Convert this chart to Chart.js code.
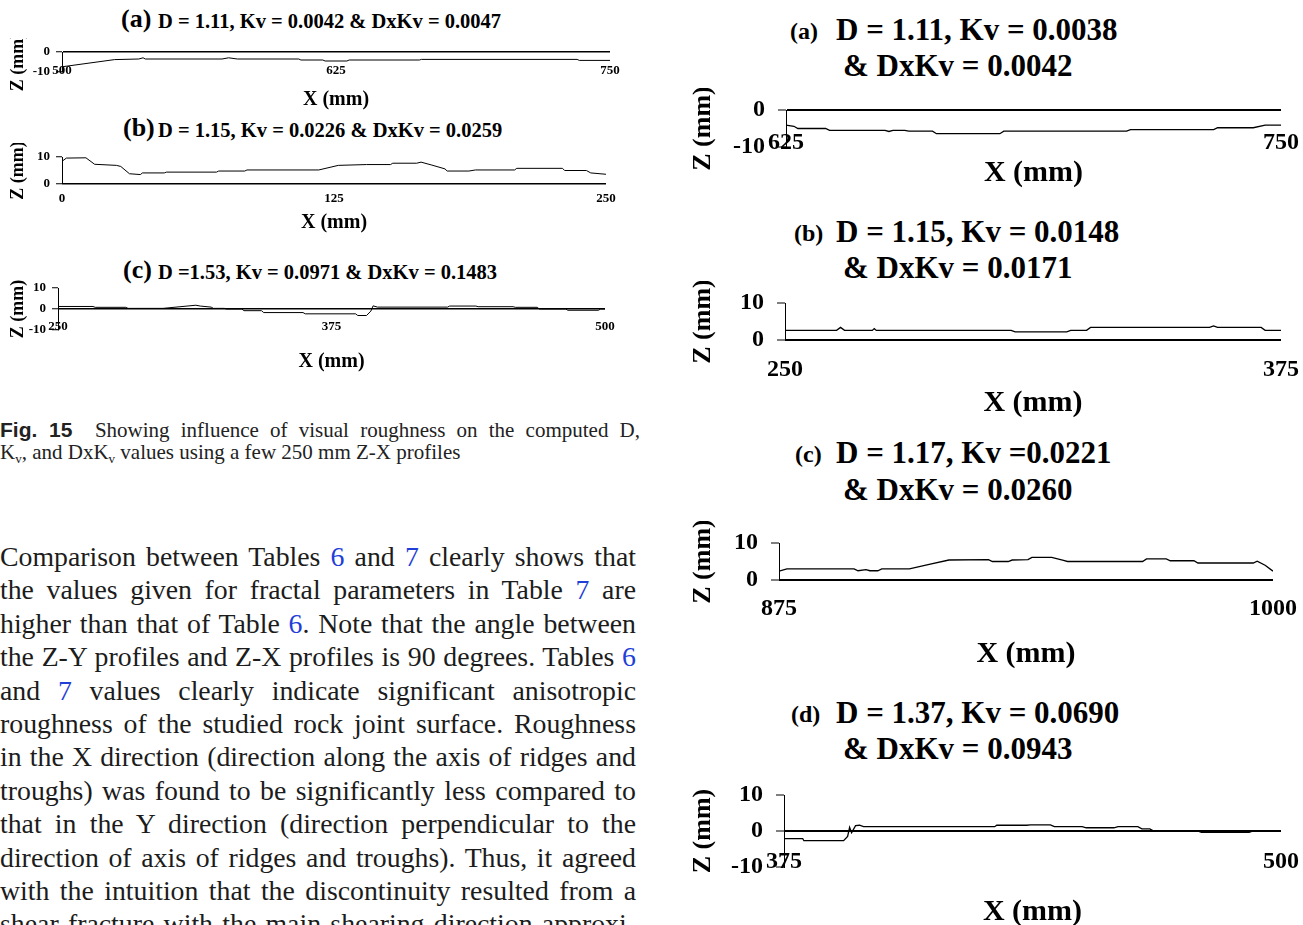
<!DOCTYPE html>
<html>
<head>
<meta charset="utf-8">
<script src="https://cdn.jsdelivr.net/npm/chart.js@4.4.1/dist/chart.umd.min.js"></script>
<style>
  html, body { margin: 0; padding: 0; background: #fff; }
  #page { position: relative; width: 1303px; height: 925px; overflow: hidden; background: #fff;
          font-family: "Liberation Serif", "Times New Roman", serif; color: #111; }
  #page canvas { position: absolute; }
  .t { position: absolute; font-weight: bold; white-space: nowrap; line-height: 1; color: #000; }
  .cap { position: absolute; left: 0; width: 640px; font-size: 21px; line-height: 22px; color: #222;
         text-align: justify; text-align-last: justify; }
  .cap2 { position: absolute; left: 0; font-size: 21px; line-height: 22px; color: #222; white-space: nowrap; }
  .fig { font-family: "Liberation Sans", Arial, sans-serif; font-weight: bold; font-size: 21px; }
  sub { font-size: 62%; vertical-align: -0.3em; line-height: 0; }
  .ln { position: absolute; left: 0; width: 636px; height: 33.4px; font-size: 27.8px; line-height: 33.4px;
        color: #1c1c1c; text-align: justify; text-align-last: justify; }
  .ln a { color: #1f3fd8; text-decoration: none; }
</style>
</head>
<body>
<div id="page">
  <!-- left figure titles -->
  <div class="t" style="left:121px; top:6px; font-size:26px">(a)</div>
  <div class="t" style="left:158px; top:11px; font-size:20.5px">D = 1.11, Kv = 0.0042 &amp; DxKv = 0.0047</div>
  <div class="t" style="left:123px; top:115px; font-size:26px">(b)</div>
  <div class="t" style="left:158px; top:120px; font-size:20.5px">D = 1.15, Kv = 0.0226 &amp; DxKv = 0.0259</div>
  <div class="t" style="left:123px; top:257px; font-size:26px">(c)</div>
  <div class="t" style="left:158px; top:262px; font-size:20.5px">D =1.53, Kv = 0.0971 &amp; DxKv = 0.1483</div>

  <!-- right figure titles -->
  <div class="t" style="left:790px; top:18.5px; font-size:24px">(a)</div>
  <div class="t" style="left:836px; top:13.6px; font-size:31px">D = 1.11, Kv = 0.0038</div>
  <div class="t" style="left:843px; top:49.6px; font-size:31px">&amp; DxKv = 0.0042</div>
  <div class="t" style="left:794px; top:220.5px; font-size:24px">(b)</div>
  <div class="t" style="left:836px; top:215.6px; font-size:31px">D = 1.15, Kv = 0.0148</div>
  <div class="t" style="left:843px; top:251.6px; font-size:31px">&amp; DxKv = 0.0171</div>
  <div class="t" style="left:795px; top:441.5px; font-size:24px">(c)</div>
  <div class="t" style="left:836px; top:436.6px; font-size:31px">D = 1.17, Kv =0.0221</div>
  <div class="t" style="left:843px; top:473.6px; font-size:31px">&amp; DxKv = 0.0260</div>
  <div class="t" style="left:791px; top:701.5px; font-size:24px">(d)</div>
  <div class="t" style="left:836px; top:696.6px; font-size:31px">D = 1.37, Kv = 0.0690</div>
  <div class="t" style="left:843px; top:732.6px; font-size:31px">&amp; DxKv = 0.0943</div>

  <!-- caption -->
  <div class="cap" style="top:419px"><span class="fig">Fig. 15</span>&nbsp; Showing influence of visual roughness on the computed D,</div>
  <div class="cap2" style="top:441px">K<sub>v</sub>, and DxK<sub>v</sub> values using a few 250 mm Z-X profiles</div>

  <!-- body text -->
  <div class="ln" style="top:540px">Comparison between Tables <a>6</a> and <a>7</a> clearly shows that</div>
  <div class="ln" style="top:573.4px">the values given for fractal parameters in Table <a>7</a> are</div>
  <div class="ln" style="top:606.8px">higher than that of Table <a>6</a>. Note that the angle between</div>
  <div class="ln" style="top:640.2px">the Z-Y profiles and Z-X profiles is 90 degrees. Tables <a>6</a></div>
  <div class="ln" style="top:673.6px">and <a>7</a> values clearly indicate significant anisotropic</div>
  <div class="ln" style="top:707px">roughness of the studied rock joint surface. Roughness</div>
  <div class="ln" style="top:740.4px">in the X direction (direction along the axis of ridges and</div>
  <div class="ln" style="top:773.8px">troughs) was found to be significantly less compared to</div>
  <div class="ln" style="top:807.2px">that in the Y direction (direction perpendicular to the</div>
  <div class="ln" style="top:840.6px">direction of axis of ridges and troughs). Thus, it agreed</div>
  <div class="ln" style="top:874px">with the intuition that the discontinuity resulted from a</div>
  <div class="ln" style="top:907.4px">shear fracture with the main shearing direction approxi-</div>
</div>

<script>
// ---- left figure (Fig. 15) profiles ----
const leftAX = [500, 524, 535, 537, 538, 573, 576, 580, 608, 609, 619, 620, 630, 631, 663, 664, 735, 736, 750]
const leftAZ = [-7.4, -3.8, -3.5, -2.9, -3.5, -3.5, -2.9, -3.5, -3.5, -4.0, -4.0, -4.5, -4.5, -4.0, -4.0, -3.7, -3.7, -4.2, -4.2]
const leftAXTicks = [500, 625, 750]
const leftAZTicks = [-10, 0]

const leftBX = [0, 2, 11, 15, 25, 27, 31, 36, 37, 47, 48, 71, 72, 84, 85, 118, 127, 140, 151, 152, 163, 165, 170, 176, 177, 187, 190, 208, 209, 230, 231, 241, 243, 250]
const leftBZ = [8.4, 9.6, 9.7, 7.3, 6.9, 6.5, 3.8, 3.5, 4.1, 4.1, 4.4, 4.4, 4.8, 4.8, 5.2, 5.2, 6.9, 7.2, 7.2, 7.7, 7.7, 8.1, 7.0, 5.6, 4.8, 4.8, 5.2, 5.2, 5.8, 5.8, 5.0, 5.0, 4.1, 3.6]
const leftBXTicks = [0, 125, 250]
const leftBZTicks = [0, 10]

const leftCX = [250, 266, 267, 281, 282, 298, 313, 315, 320, 321, 326, 327, 334, 335, 343, 344, 362, 363, 386, 387, 391, 393, 394, 396, 428, 429, 441, 442, 458, 459, 469, 470, 482, 483, 497, 498, 500]
const leftCZ = [1.2, 1.2, 0.8, 0.8, 0.3, 0.3, 1.8, 1.4, 0.9, 0.3, 0.3, 0, 0, -0.8, -0.8, -1.7, -1.7, -2.3, -2.3, -3.1, -3.1, -1.0, 1.5, 0.9, 0.9, 1.4, 1.4, 1.1, 1.1, 0.8, 0.8, 0, 0, -0.6, -0.6, 0, 0]
const leftCXTicks = [250, 375, 500]
const leftCZTicks = [-10, 0, 10]

// ---- right figure profiles ----
const rightAX = [625, 627, 628, 635, 636, 650, 651, 652, 655, 656, 662, 663, 679, 680, 711, 712, 733, 734, 743, 746, 750]
const rightAZ = [-4.1, -4.4, -5.0, -5.0, -5.5, -5.5, -5.8, -5.5, -5.5, -5.7, -5.7, -6.4, -6.4, -5.7, -5.7, -5.3, -5.3, -4.8, -4.8, -4.1, -4.1]
const rightAXTicks = [625, 750]
const rightAZTicks = [-10, 0]

const rightBX = [250, 263, 264, 265, 272, 272.5, 273, 307, 308, 321, 322, 326, 327, 357, 358, 359, 370, 371, 375]
const rightBZ = [2.6, 2.6, 3.4, 2.6, 2.6, 3.1, 2.6, 2.6, 2.2, 2.2, 2.6, 2.6, 3.4, 3.4, 3.8, 3.4, 3.4, 2.6, 2.6]
const rightBXTicks = [250, 375]
const rightBZTicks = [0, 10]

const rightCX = [875, 877, 894, 895, 897, 898, 900, 901, 908, 913, 918, 928, 929, 933, 934, 938, 939, 944, 947, 948, 967, 968, 973, 974, 980, 981, 995, 996, 998, 1000]
const rightCZ = [2.4, 3.0, 3.0, 2.5, 2.8, 2.5, 2.5, 3.0, 3.0, 4.2, 5.4, 5.5, 5.0, 5.0, 5.4, 5.5, 6.1, 6.1, 5.3, 5.0, 5.0, 5.7, 5.7, 5.2, 5.2, 4.6, 4.6, 5.1, 4.0, 2.4]
const rightCXTicks = [875, 1000]
const rightCZTicks = [0, 10]

const rightDX = [375, 379.7, 380, 390, 391, 391.5, 392, 393, 394, 395, 428, 428.5, 436, 437, 442, 443, 450, 451, 458, 459, 464, 465, 467, 468, 479, 480, 492, 493, 500]
const rightDZ = [-2.1, -2.1, -2.7, -2.7, -1.5, 1.0, -0.5, 1.5, 1.6, 1.2, 1.2, 1.6, 1.6, 1.7, 1.7, 1.2, 1.2, 0.9, 0.9, 1.2, 1.2, 0.6, 0.6, 0, 0, -0.4, -0.4, 0, 0]
const rightDXTicks = [375, 500]
const rightDZTicks = [-10, 0, 10]

const serif = "'Liberation Serif', 'Times New Roman', serif"

// sizes for the two figure columns
const leftStyle = { canvasX: 0, padTop: 14, padRight: 30, tick: 13, xTitle: 20, zTitle: 18, zTitleX: 18,
  line: 1, zero: 1.5, tickLen: 6, yPad: 6 }
const rightStyle = { canvasX: 680, padTop: 22, padRight: 30, tick: 24, xTitle: 30, zTitle: 26, zTitleX: 703,
  line: 1.3, zero: 2, tickLen: 8, yPad: 13 }

function drawProfile(xs, zs, xTicks, zTicks, box, st) {
  const canvasTop = box.t - st.padTop
  const H = Math.round(box.xTitleY + st.xTitle * 0.6 - canvasTop)
  const W = box.r - st.canvasX + st.padRight
  const L = box.l - st.canvasX
  const M = H - st.padTop - (box.b - box.t)

  const cv = document.createElement("canvas")
  cv.width = W
  cv.height = H
  cv.style.width = W + "px"
  cv.style.height = H + "px"
  cv.style.left = st.canvasX + "px"
  cv.style.top = canvasTop + "px"
  document.getElementById("page").appendChild(cv)

  const points = []
  for (let i = 0; i < xs.length; i++) {
    points.push({ x: xs[i], y: zs[i] })
  }

  new Chart(cv, {
    type: "line",
    data: {
      datasets: [{
        data: points,
        borderColor: "#000",
        borderWidth: st.line,
        pointRadius: 0,
        tension: 0,
        fill: false,
      }],
    },
    options: {
      responsive: false,
      animation: false,
      events: [],
      layout: { padding: { top: st.padTop, right: st.padRight, left: 0, bottom: 0 } },
      plugins: { legend: { display: false }, tooltip: { enabled: false } },
      scales: {
        x: {
          type: "linear",
          min: xTicks[0],
          max: xTicks[xTicks.length - 1],
          grid: { display: false, drawTicks: false },
          border: { display: false },
          ticks: {
            // mirror keeps the labels unclipped where they sit over the -10 level
            autoSkip: false, maxRotation: 0, color: "#000", mirror: true,
            padding: box.b - box.xLabelY - st.tick * 0.6,
            font: { family: serif, size: st.tick, weight: "bold" },
            callback: (v) => String(v),
          },
          afterBuildTicks: (s) => { s.ticks = xTicks.map((v) => ({ value: v })) },
          afterFit: (s) => { s.height = M; s.paddingLeft = 0; s.paddingRight = 0 },
          title: { display: true, text: "X (mm)", color: "#000", padding: 0,
            font: { family: serif, size: st.xTitle, weight: "bold" } },
        },
        y: {
          min: zTicks[0],
          max: zTicks[zTicks.length - 1],
          grid: {
            color: (c) => (c.tick && c.tick.value === 0 ? "#000" : "rgba(0,0,0,0)"),
            lineWidth: st.zero,
            tickColor: "#000",
            tickWidth: 1,
            tickLength: st.tickLen,
          },
          border: { display: true, color: "#000", width: 1 },
          ticks: {
            color: "#000", padding: st.yPad,
            font: { family: serif, size: st.tick, weight: "bold" },
            callback: (v) => String(v),
          },
          afterBuildTicks: (s) => { s.ticks = zTicks.map((v) => ({ value: v })) },
          afterFit: (s) => { s.width = L; s.paddingTop = 0; s.paddingBottom = 0 },
          title: { display: true, text: "Z (mm)", color: "#000",
            padding: { top: st.zTitleX - st.canvasX - st.zTitle * 0.6, bottom: 0 },
            font: { family: serif, size: st.zTitle, weight: "bold" } },
        },
      },
    },
  })
}

drawProfile(leftAX, leftAZ, leftAXTicks, leftAZTicks, { l: 62, t: 52, r: 610, b: 72, xLabelY: 71, xTitleY: 100 }, leftStyle)
drawProfile(leftBX, leftBZ, leftBXTicks, leftBZTicks, { l: 62, t: 157, r: 606, b: 184, xLabelY: 199, xTitleY: 223 }, leftStyle)
drawProfile(leftCX, leftCZ, leftCXTicks, leftCZTicks, { l: 58, t: 288, r: 605, b: 330, xLabelY: 327, xTitleY: 362 }, leftStyle)

drawProfile(rightAX, rightAZ, rightAXTicks, rightAZTicks, { l: 786, t: 110, r: 1281, b: 147, xLabelY: 143, xTitleY: 173 }, rightStyle)
drawProfile(rightBX, rightBZ, rightBXTicks, rightBZTicks, { l: 785, t: 303, r: 1281, b: 340, xLabelY: 370, xTitleY: 403 }, rightStyle)
drawProfile(rightCX, rightCZ, rightCXTicks, rightCZTicks, { l: 779, t: 543, r: 1273, b: 580, xLabelY: 609, xTitleY: 654 }, rightStyle)
drawProfile(rightDX, rightDZ, rightDXTicks, rightDZTicks, { l: 784, t: 795, r: 1281, b: 867, xLabelY: 862, xTitleY: 912 }, rightStyle)
</script>
</body>
</html>
